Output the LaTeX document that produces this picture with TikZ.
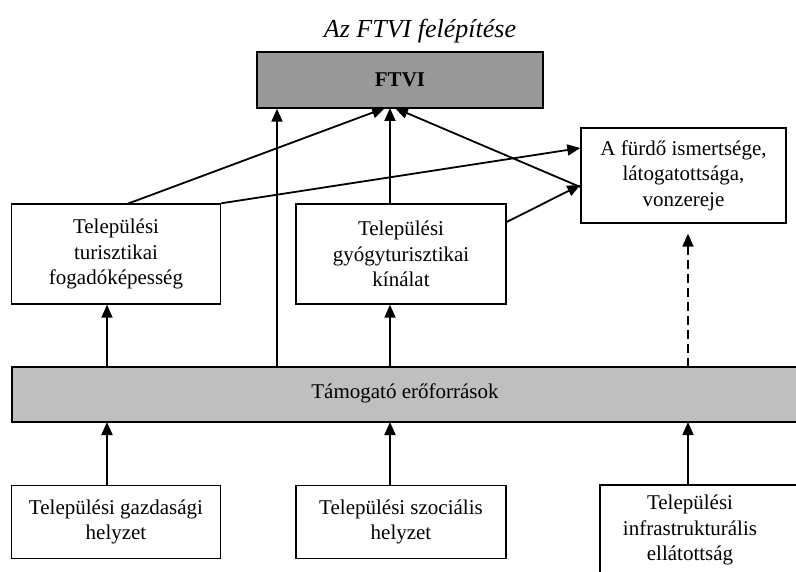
\documentclass[tikz,border=0pt]{standalone}
\usepackage{fontspec}
\setmainfont{Liberation Serif}
\usetikzlibrary{arrows.meta}
\begin{document}
\begin{tikzpicture}[x=1pt,y=-1pt,
  every node/.style={font=\fontsize{21}{25.5}\selectfont, align=center, inner sep=0pt},
  box/.style={draw, line width=1.4pt},
  arr/.style={line width=1.8pt, -{Triangle[length=13pt,width=11pt]}}]
\useasboundingbox (0,0) rectangle (796,572);
\node (title) at (420,31) {\fontsize{26}{30}\selectfont\itshape Az FTVI felépítése};
\node[box, fill=black!40, minimum width=286pt, minimum height=56pt] (ftvi) at (400,80) {\bfseries FTVI};
\node[box, minimum width=205pt, minimum height=95pt] (fam) at (683.5,175.5) {A fürdő ismertsége,\\látogatottsága,\\vonzereje};
\node[box, minimum width=209pt, minimum height=100pt] (tur) at (116,254) {Települési\\turisztikai\\fogadóképesség};
\node[box, minimum width=210pt, minimum height=100pt] (gyo) at (401,254) {Települési\\gyógyturisztikai\\kínálat};
\draw[box, fill=black!25] (12,367) rectangle (810,422);
\node (tam) at (405,393) {Támogató erőforrások};
\coordinate (barT1) at (107,367);
\coordinate (barT2) at (277,367);
\coordinate (barT3) at (390,367);
\coordinate (barT4) at (688,367);
\coordinate (barB1) at (107,422);
\coordinate (barB2) at (390,422);
\coordinate (barB3) at (688,422);
\node[box, minimum width=209pt, minimum height=73pt] (gaz) at (116,522) {Települési gazdasági\\helyzet};
\node[box, minimum width=210pt, minimum height=73pt] (szo) at (401,522) {Települési szociális\\helyzet};
\draw[box] (600,485) rectangle (820,600);
\node (inf) at (690,530) {Települési\\infrastrukturális\\ellátottság};
\coordinate (infT) at (688,485);
% arrows
\draw[arr] (barT1) -- (barT1 |- tur.south);
\draw[arr] (barT2) -- (barT2 |- ftvi.south);
\draw[arr] (barT3) -- (barT3 |- gyo.south);
\draw[arr, dashed, dash pattern=on 9pt off 5pt] (barT4) -- ([yshift=-10pt]barT4 |- fam.south);
\draw[arr] (127,204) -- (385,108);
\draw[arr] (390,204) -- (390,108);
\draw[arr] (fam.west |- 0,187) -- (395,108);
\draw[arr] (tur.north east) -- (fam.west |- 0,148);
\draw[arr] (gyo.east |- 0,222) -- (fam.west |- 0,185);
\draw[arr] (gaz.north -| barB1) -- (barB1);
\draw[arr] (szo.north -| barB2) -- (barB2);
\draw[arr] (infT) -- (barB3);
\end{tikzpicture}
\end{document}
